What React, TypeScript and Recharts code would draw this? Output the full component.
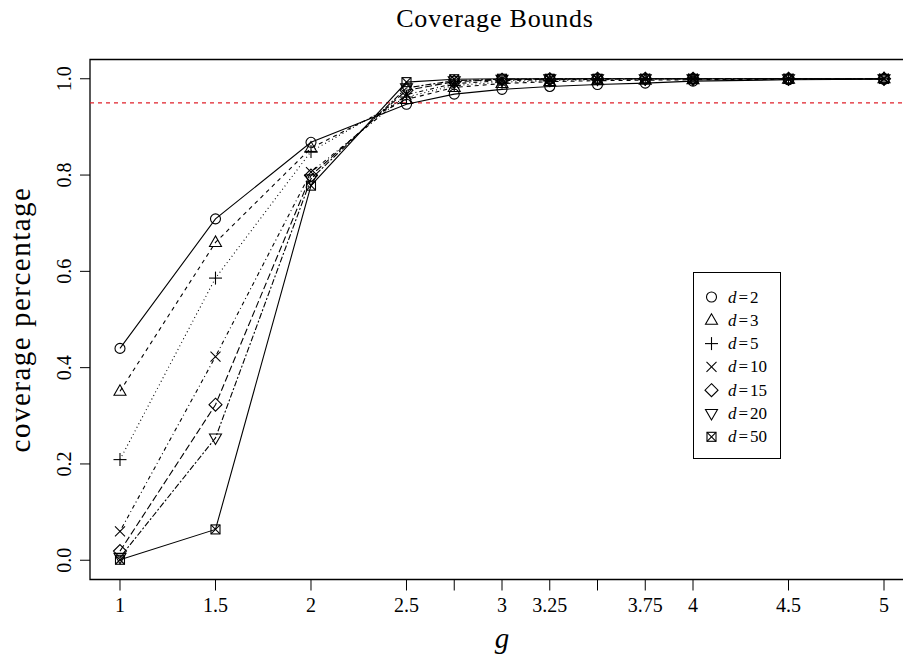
import React from "react";
import {
  LineChart,
  Line,
  XAxis,
  YAxis,
  ReferenceLine,
  ReferenceArea,
  Legend,
  Label,
} from "recharts";

// g values (x axis)
const gValues = [1, 1.5, 2, 2.5, 2.75, 3, 3.25, 3.5, 3.75, 4, 4.5, 5];

// coverage for each d
const cov2 = [0.44, 0.709, 0.868, 0.947, 0.968, 0.978, 0.984, 0.988, 0.991, 0.995, 0.998, 0.999];
const cov3 = [0.351, 0.66, 0.856, 0.957, 0.982, 0.99, 0.994, 0.996, 0.997, 0.998, 0.999, 1.0];
const cov5 = [0.209, 0.586, 0.849, 0.962, 0.986, 0.993, 0.996, 0.998, 0.999, 0.999, 1.0, 1.0];
const cov10 = [0.06, 0.423, 0.806, 0.967, 0.99, 0.996, 0.998, 0.999, 1.0, 1.0, 1.0, 1.0];
const cov15 = [0.019, 0.323, 0.799, 0.976, 0.994, 0.998, 0.999, 1.0, 1.0, 1.0, 1.0, 1.0];
const cov20 = [0.006, 0.254, 0.792, 0.981, 0.996, 0.999, 1.0, 1.0, 1.0, 1.0, 1.0, 1.0];
const cov50 = [0.001, 0.064, 0.778, 0.993, 0.999, 1.0, 1.0, 1.0, 1.0, 1.0, 1.0, 1.0];

// tick labels
const xTicks = [1, 1.5, 2, 2.5, 2.75, 3, 3.25, 3.5, 3.75, 4, 4.5, 5];
const xUnlabelled = [2.75, 3.5];
const yTicks = [0, 0.2, 0.4, 0.6, 0.8, 1.0];
const target = 0.95;

const FONT = '"Liberation Serif", "DejaVu Serif", serif';

// series: key, d label, marker, dash (R lty 1..7)
const series = [
  { key: "d2", d: 2, values: cov2, marker: "circle", dash: undefined },
  { key: "d3", d: 3, values: cov3, marker: "triangle", dash: "4 4" },
  { key: "d5", d: 5, values: cov5, marker: "plus", dash: "1 3" },
  { key: "d10", d: 10, values: cov10, marker: "cross", dash: "1 3 4 3" },
  { key: "d15", d: 15, values: cov15, marker: "diamond", dash: "7 3" },
  { key: "d20", d: 20, values: cov20, marker: "triangleDown", dash: "2 2 6 2" },
  { key: "d50", d: 50, values: cov50, marker: "boxCross", dash: undefined },
];

const data = gValues.map((g, i) => {
  const row: Record<string, number> = { g };
  series.forEach(s => {
    row[s.key] = s.values[i];
  });
  return row;
});

function Marker({ shape, cx, cy }: { shape: string; cx: number; cy: number }) {
  const st = { stroke: "#000", strokeWidth: 1.1, fill: "none" };
  switch (shape) {
    case "circle":
      return <circle cx={cx} cy={cy} r={5} {...st} />;
    case "triangle":
      return <polygon points={`${cx},${cy - 6.5} ${cx - 6},${cy + 4} ${cx + 6},${cy + 4}`} {...st} />;
    case "triangleDown":
      return <polygon points={`${cx},${cy + 6.5} ${cx - 6},${cy - 4} ${cx + 6},${cy - 4}`} {...st} />;
    case "plus":
      return (
        <g {...st}>
          <line x1={cx - 6.5} y1={cy} x2={cx + 6.5} y2={cy} />
          <line x1={cx} y1={cy - 6.5} x2={cx} y2={cy + 6.5} />
        </g>
      );
    case "cross":
      return (
        <g {...st}>
          <line x1={cx - 5} y1={cy - 5} x2={cx + 5} y2={cy + 5} />
          <line x1={cx - 5} y1={cy + 5} x2={cx + 5} y2={cy - 5} />
        </g>
      );
    case "diamond":
      return <polygon points={`${cx},${cy - 6.5} ${cx + 6.5},${cy} ${cx},${cy + 6.5} ${cx - 6.5},${cy}`} {...st} />;
    default:
      return (
        <g {...st}>
          <rect x={cx - 4.5} y={cy - 4.5} width={9} height={9} />
          <line x1={cx - 4.5} y1={cy - 4.5} x2={cx + 4.5} y2={cy + 4.5} />
          <line x1={cx - 4.5} y1={cy + 4.5} x2={cx + 4.5} y2={cy - 4.5} />
        </g>
      );
  }
}

const XTick = (props: any) => {
  const { x, y, payload } = props;
  if (xUnlabelled.includes(payload.value)) return null;
  return (
    <text x={x} y={y} dy="0.71em" textAnchor="middle" fontFamily={FONT} fontSize={20} fill="#000">
      {payload.value}
    </text>
  );
};

const YTick = (props: any) => {
  const { x, y, payload } = props;
  const bx = x - 7;
  return (
    <text
      x={bx}
      y={y}
      transform={`rotate(-90, ${bx}, ${y})`}
      textAnchor="middle"
      fontFamily={FONT}
      fontSize={20}
      fill="#000"
    >
      {payload.value.toFixed(1)}
    </text>
  );
};

const LegendBox = () => (
  <svg width={88} height={188} style={{ display: "block" }}>
    <rect x={0.5} y={0.5} width={87} height={186} fill="#fff" stroke="#000" strokeWidth={1} />
    {series.map((s, i) => {
      const cy = 25 + i * 23.3;
      return (
        <g key={s.key}>
          <Marker shape={s.marker} cx={18.5} cy={cy} />
          <text x={35} y={cy + 5.5} fontFamily={FONT} fontSize={17} fill="#000">
            <tspan fontStyle="italic">d</tspan>
            <tspan dx={2}>=</tspan>
            <tspan dx={2}>{s.d}</tspan>
          </text>
        </g>
      );
    })}
  </svg>
);

export default function App() {
  return (
    <div
      style={{
        position: "absolute",
        left: 0,
        top: 0,
        width: 903,
        height: 656,
        overflow: "hidden",
        background: "#fff",
      }}
    >
      <div
        style={{
          position: "absolute",
          left: 0,
          top: 6,
          width: 990,
          textAlign: "center",
          fontFamily: FONT,
          fontSize: 26,
          lineHeight: "26px",
          letterSpacing: 0.8,
        }}
      >
        Coverage Bounds
      </div>
      <LineChart
        width={914}
        height={656}
        data={data}
        margin={{ top: 59.5, right: 0, bottom: 0, left: 0 }}
      >
        <XAxis
          dataKey="g"
          type="number"
          domain={[0.843, 5.157]}
          ticks={xTicks}
          interval={0}
          height={76.5}
          axisLine={false}
          tickSize={11}
          tickMargin={7}
          tickLine={{ stroke: "#000", strokeWidth: 1 }}
          tick={<XTick />}
        >
          <Label
            content={(p: any) => {
              const vb = p.viewBox;
              return (
                <text
                  x={vb.x + vb.width / 2}
                  y={648}
                  textAnchor="middle"
                  fontFamily={FONT}
                  fontStyle="italic"
                  fontSize={29}
                  fill="#000"
                >
                  g
                </text>
              );
            }}
          />
        </XAxis>
        <YAxis
          type="number"
          domain={[-0.04, 1.04]}
          ticks={yTicks}
          interval={0}
          width={90}
          axisLine={false}
          tickSize={10}
          tickMargin={2}
          tickLine={{ stroke: "#000", strokeWidth: 1 }}
          tick={<YTick />}
        >
          <Label
            content={(p: any) => {
              const vb = p.viewBox;
              const cy = vb.y + vb.height / 2;
              return (
                <text
                  x={30}
                  y={cy}
                  transform={`rotate(-90, 30, ${cy})`}
                  textAnchor="middle"
                  fontFamily={FONT}
                  fontSize={29}
                  letterSpacing={1.5}
                  fill="#000"
                >
                  coverage percentage
                </text>
              );
            }}
          />
        </YAxis>
        <ReferenceArea
          x1={0.843}
          x2={5.157}
          y1={-0.04}
          y2={1.04}
          fill="none"
          stroke="#000"
          strokeWidth={1.3}
          fillOpacity={0}
        />
        <ReferenceLine y={target} stroke="#e0202a" strokeWidth={1.1} strokeDasharray="4 4" />
        {series.map(s => (
          <Line
            key={s.key}
            dataKey={s.key}
            type="linear"
            stroke="#000"
            strokeWidth={1.1}
            strokeDasharray={s.dash}
            isAnimationActive={false}
            dot={(p: any) => <Marker key={`${s.key}-${p.index}`} shape={s.marker} cx={p.cx} cy={p.cy} />}
            activeDot={false}
          />
        ))}
        <Legend
          layout="vertical"
          align="center"
          verticalAlign="middle"
          content={() => <LegendBox />}
          wrapperStyle={{ position: "absolute", left: 692.5, top: 271.5, width: 88, height: 188 }}
        />
      </LineChart>
    </div>
  );
}
